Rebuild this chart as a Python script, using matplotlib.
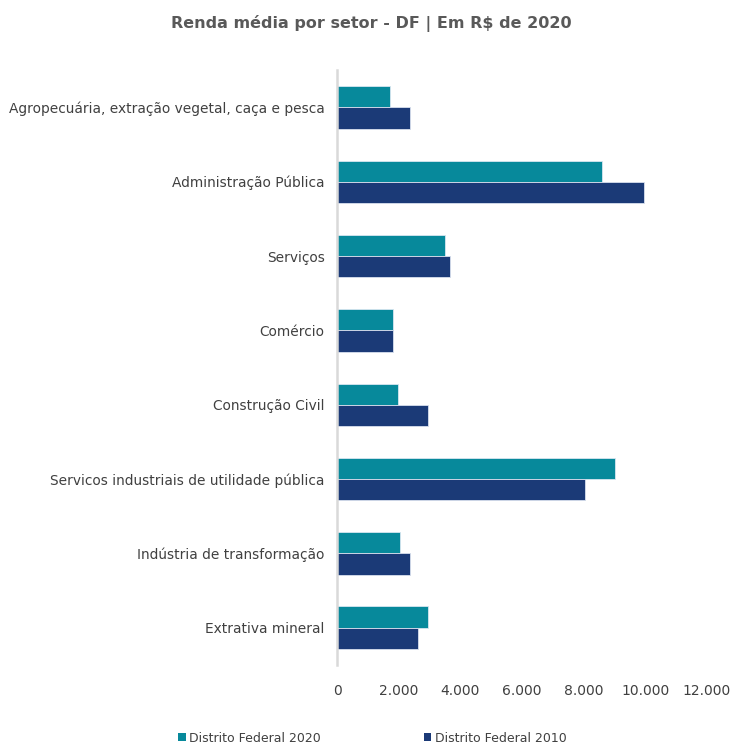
import matplotlib
matplotlib.use("Agg")
import matplotlib.pyplot as plt
from matplotlib.ticker import FuncFormatter
from matplotlib.patches import Patch
import numpy as np

categories = [
    "Agropecuária, extração vegetal, caça e pesca",
    "Administração Pública",
    "Serviços",
    "Comércio",
    "Construção Civil",
    "Servicos industriais de utilidade pública",
    "Indústria de transformação",
    "Extrativa mineral",
]
renda_2020 = [1720, 8590, 3505, 1805, 1970, 9000, 2040, 2935]
renda_2010 = [2365, 9970, 3670, 1805, 2935, 8030, 2365, 2615]
series_labels = ["Distrito Federal 2020", "Distrito Federal 2010"]
x_ticks = [0, 2000, 4000, 6000, 8000, 10000, 12000]

color_2020 = "#07899B"
color_2010 = "#1B3A77"
text_color = "#404040"
font = ["DejaVu Sans"]

fig = plt.figure(figsize=(7.33, 7.47), dpi=100)
ax = fig.add_axes([0.46, 0.110, 0.5045, 0.796])

y = np.arange(len(categories))
h = 0.285
ax.barh(y - h / 2, renda_2020, height=h, color=color_2020,
        edgecolor="#d8e6f0", linewidth=0.6)
ax.barh(y + h / 2, renda_2010, height=h, color=color_2010,
        edgecolor="#d8e0ee", linewidth=0.6)

ax.set_ylim(len(categories) - 0.5, -0.5)
ax.set_xlim(0, 12000)
ax.set_yticks(y)
ax.set_yticklabels(categories, family=font, fontsize=9.9, color=text_color)
ax.set_xticks(x_ticks)
ax.xaxis.set_major_formatter(FuncFormatter(lambda v, p: f"{int(v):,}".replace(",", ".")))
for lbl in ax.get_xticklabels():
    lbl.set_family(font)
    lbl.set_fontsize(10)
    lbl.set_color(text_color)
ax.tick_params(axis="both", length=0)
ax.tick_params(axis="x", pad=14)
ax.tick_params(axis="y", pad=9)

for side in ["top", "right", "bottom"]:
    ax.spines[side].set_visible(False)
ax.spines["left"].set_color("#d9d9d9")
ax.spines["left"].set_linewidth(1.8)

fig.text(0.507, 0.969, "Renda média por setor - DF | Em R$ de 2020",
         ha="center", va="center", family=font, fontsize=11.5,
         fontweight="bold", color="#595959")

handles = [Patch(facecolor=color_2020, edgecolor="none"),
           Patch(facecolor=color_2010, edgecolor="none")]
fig.legend(handles, series_labels, loc="center", bbox_to_anchor=(0.508, 0.012),
           ncol=2, frameon=False, handlelength=0.6, handleheight=0.6,
           handletextpad=0.3, columnspacing=8.2,
           prop={"family": font, "size": 9}, labelcolor=text_color)

fig.savefig("out.png", dpi=100, facecolor="white")
